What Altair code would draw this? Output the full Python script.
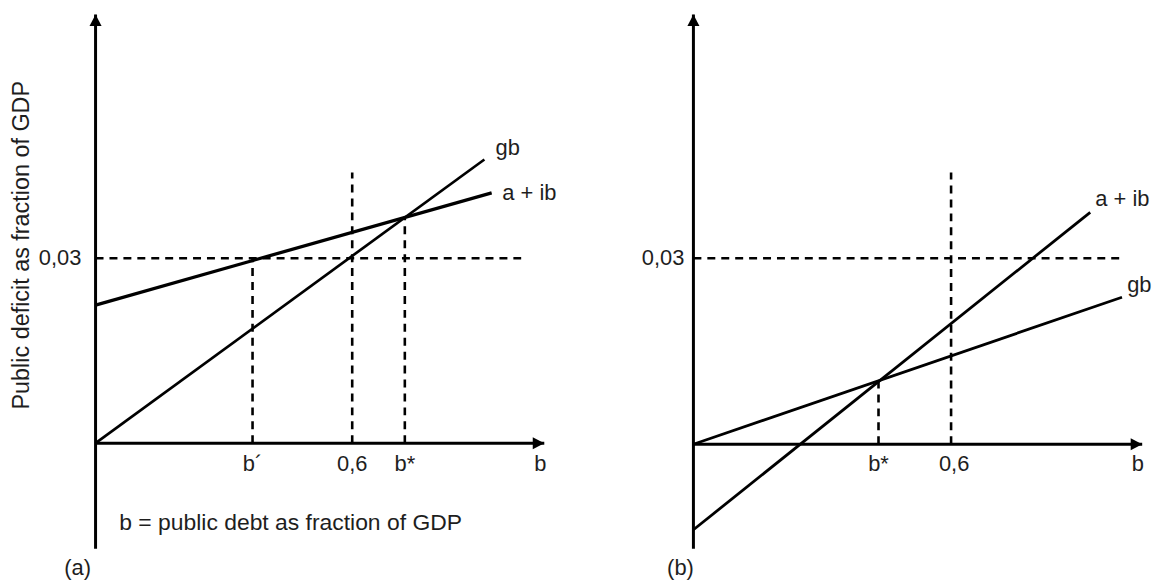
import altair as alt
import pandas as pd

FONT = "Liberation Sans"
INK = "#000000"
TXT = "#1e1e1e"

# ---------------- Panel (a) ----------------
A_X_DOMAIN = [-0.2047, 1.1209]
A_Y_DOMAIN = [-0.02097, 0.07032]
A_AXIS_B_TIP = 1.049
A_AXIS_Y_TOP = 0.0695
A_AXIS_Y_BOTTOM = -0.0171
A_AIB_B = [0.0, 0.926]
A_AIB_Y = [0.0224, 0.0406]
A_GB_B = [0.0, 0.909]
A_GB_Y = [0.0, 0.0460]
A_LIMIT_Y = 0.03
A_LIMIT_END = 0.995
A_VLINE_B = [0.367, 0.6, 0.723]
A_VLINE_TOP = [0.03, 0.0439, 0.0367]
A_TICK_B = [0.367, 0.6, 0.723, 1.040]
A_TICK_TEXT = ["b\u00b4", "0,6", "b*", "b"]
A_TICK_Y = -0.0034
A_YTICK = {"b": -0.0333, "y": 0.03, "text": "0,03"}
A_LINE_LABEL_B = [0.935, 0.951]
A_LINE_LABEL_Y = [0.0479, 0.0406]
A_LINE_LABEL_TEXT = ["gb", "a + ib"]
A_CAPTION = {"b": 0.456, "y": -0.0129, "text": "b = public debt as fraction of GDP"}
A_PANEL = {"b": -0.0419, "y": -0.0202, "text": "(a)"}
A_YTITLE = {"b": -0.1721, "y": 0.0321, "text": "Public deficit as fraction of GDP"}

# ---------------- Panel (b) ----------------
B_X_DOMAIN = [-0.2757, 1.0447]
B_Y_DOMAIN = [-0.0207, 0.07011]
B_AXIS_B_TIP = 1.045
B_AXIS_Y_TOP = 0.0693
B_AXIS_Y_BOTTOM = -0.01685
B_AIB_B = [0.0, 0.924]
B_AIB_Y = [-0.0138, 0.0374]
B_GB_B = [0.0, 0.998]
B_GB_Y = [0.0, 0.0237]
B_LIMIT_Y = 0.03
B_LIMIT_END = 0.994
B_VLINE_B = [0.431, 0.6]
B_VLINE_TOP = [0.0103, 0.0438]
B_TICK_B = [0.431, 0.607, 1.035]
B_TICK_TEXT = ["b*", "0,6", "b"]
B_TICK_Y = -0.0032
B_YTICK = {"b": -0.021, "y": 0.03, "text": "0,03"}
B_LINE_LABEL_B = [0.936, 1.010]
B_LINE_LABEL_Y = [0.0396, 0.0257]
B_LINE_LABEL_TEXT = ["a + ib", "gb"]
B_PANEL = {"b": -0.0301, "y": -0.0199, "text": "(b)"}

UP_ARROW = "M0,0L-1.1,2.1L1.1,2.1Z"
RIGHT_ARROW = "M0,0L-2.1,-1.1L-2.1,1.1Z"

W, H = 570, 566


def panel(xdom, ydom, tip, ytop, ybot, aib_b, aib_y, gb_b, gb_y, aib_w, gb_w,
          lim_y, lim_end, vb, vtop, tick_b, tick_text, tick_y, ytick,
          lab_b, lab_y, lab_text, panel_lab, caption=None, ytitle=None):
    X = lambda f: alt.X(f, type="quantitative", axis=None,
                        scale=alt.Scale(domain=xdom, nice=False, zero=False))
    Y = lambda f: alt.Y(f, type="quantitative", axis=None,
                        scale=alt.Scale(domain=ydom, nice=False, zero=False))

    axes = pd.DataFrame({"b": [0.0, 0.0], "b2": [0.0, tip],
                         "y": [ybot, 0.0], "y2": [ytop, 0.0]})
    axis_layer = alt.Chart(axes).mark_rule(color=INK, strokeWidth=3).encode(
        x=X("b"), x2="b2", y=Y("y"), y2="y2")

    up = alt.Chart(pd.DataFrame({"b": [0.0], "y": [ytop]})).mark_point(
        shape=UP_ARROW, filled=True, color=INK, size=121, opacity=1, strokeWidth=0
    ).encode(x=X("b"), y=Y("y"))
    right = alt.Chart(pd.DataFrame({"b": [tip], "y": [0.0]})).mark_point(
        shape=RIGHT_ARROW, filled=True, color=INK, size=121, opacity=1, strokeWidth=0
    ).encode(x=X("b"), y=Y("y"))

    aib = alt.Chart(pd.DataFrame({"b": aib_b, "y": aib_y})).mark_line(
        color=INK, strokeWidth=aib_w).encode(x=X("b"), y=Y("y"))
    gb = alt.Chart(pd.DataFrame({"b": gb_b, "y": gb_y})).mark_line(
        color=INK, strokeWidth=gb_w).encode(x=X("b"), y=Y("y"))

    hl = alt.Chart(pd.DataFrame({"b": [0.0], "b2": [lim_end], "y": [lim_y]})).mark_rule(
        color=INK, strokeWidth=2.6, strokeDash=[8, 6]).encode(x=X("b"), x2="b2", y=Y("y"))
    vl = alt.Chart(pd.DataFrame({"b": vb, "y": [0.0] * len(vb), "y2": vtop})).mark_rule(
        color=INK, strokeWidth=2.6, strokeDash=[8, 6]).encode(x=X("b"), y=Y("y"), y2="y2")

    ticks = alt.Chart(pd.DataFrame({"b": tick_b, "y": [tick_y] * len(tick_b),
                                    "t": tick_text})).mark_text(
        font=FONT, fontSize=22, color=TXT, align="center", baseline="middle"
    ).encode(x=X("b"), y=Y("y"), text="t")
    yt = alt.Chart(pd.DataFrame([ytick])).mark_text(
        font=FONT, fontSize=22, color=TXT, align="right", baseline="middle"
    ).encode(x=X("b"), y=Y("y"), text="text")
    labs = alt.Chart(pd.DataFrame({"b": lab_b, "y": lab_y, "t": lab_text})).mark_text(
        font=FONT, fontSize=22, color=TXT, align="left", baseline="middle"
    ).encode(x=X("b"), y=Y("y"), text="t")
    pl = alt.Chart(pd.DataFrame([panel_lab])).mark_text(
        font=FONT, fontSize=22, color=TXT, align="center", baseline="middle"
    ).encode(x=X("b"), y=Y("y"), text="text")

    layers = [hl, vl, aib, gb, axis_layer, up, right, ticks, yt, labs, pl]
    if caption is not None:
        layers.append(alt.Chart(pd.DataFrame([caption])).mark_text(
            font=FONT, fontSize=23, color=TXT, align="center", baseline="middle"
        ).encode(x=X("b"), y=Y("y"), text="text"))
    if ytitle is not None:
        layers.append(alt.Chart(pd.DataFrame([ytitle])).mark_text(
            font=FONT, fontSize=23.5, color=TXT, align="center", baseline="middle", angle=270
        ).encode(x=X("b"), y=Y("y"), text="text"))
    return alt.layer(*layers).properties(width=W, height=H)


pa = panel(A_X_DOMAIN, A_Y_DOMAIN, A_AXIS_B_TIP, A_AXIS_Y_TOP, A_AXIS_Y_BOTTOM,
           A_AIB_B, A_AIB_Y, A_GB_B, A_GB_Y, 3.3, 2.7,
           A_LIMIT_Y, A_LIMIT_END, A_VLINE_B, A_VLINE_TOP,
           A_TICK_B, A_TICK_TEXT, A_TICK_Y, A_YTICK,
           A_LINE_LABEL_B, A_LINE_LABEL_Y, A_LINE_LABEL_TEXT, A_PANEL,
           caption=A_CAPTION, ytitle=A_YTITLE)

pb = panel(B_X_DOMAIN, B_Y_DOMAIN, B_AXIS_B_TIP, B_AXIS_Y_TOP, B_AXIS_Y_BOTTOM,
           B_AIB_B, B_AIB_Y, B_GB_B, B_GB_Y, 2.8, 2.8,
           B_LIMIT_Y, B_LIMIT_END, B_VLINE_B, B_VLINE_TOP,
           B_TICK_B, B_TICK_TEXT, B_TICK_Y, B_YTICK,
           B_LINE_LABEL_B, B_LINE_LABEL_Y, B_LINE_LABEL_TEXT, B_PANEL)

chart = alt.hconcat(pa, pb, spacing=0).properties(
    padding={"left": 0, "top": 0, "right": 0, "bottom": 0},
    background="white",
).configure_view(stroke=None)

chart.save("out.html", embed_options={"renderer": "svg", "actions": False})
